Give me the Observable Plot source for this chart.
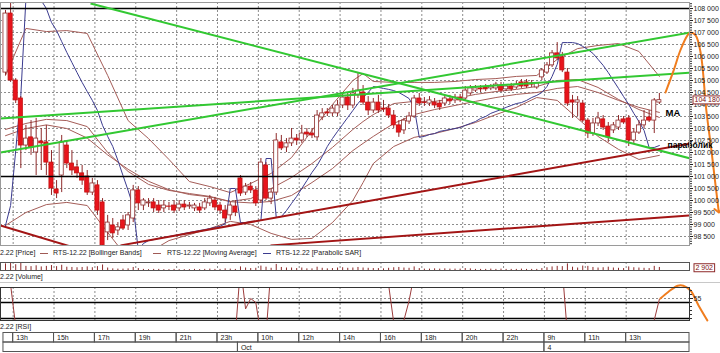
<!DOCTYPE html>
<html>
<head>
<meta charset="utf-8">
<script src="https://cdn.jsdelivr.net/npm/d3@7"></script>
<script src="https://cdn.jsdelivr.net/npm/@observablehq/plot@0.6"></script>
<style>
html,body{margin:0;padding:0;background:#fff;}
body{width:720px;height:353px;overflow:hidden;font-family:"Liberation Sans",Arial,sans-serif;}
.row{position:relative;width:720px;}
.lbl{position:absolute;font-size:7px;line-height:8px;color:#1a1a1a;white-space:nowrap;}
.dash{position:absolute;width:8px;height:0;border-top:1px solid;}
svg{display:block;}
</style>
</head>
<body>
<div id="price"></div>
<div class="row" style="height:14px">
  <span class="lbl" style="left:0px;top:2px">2.22 [Price]</span>
  <span class="dash" style="left:40px;top:6px;border-color:#a05a55"></span>
  <span class="lbl" style="left:53px;top:2px">RTS-12.22 [Bollinger Bands]</span>
  <span class="dash" style="left:153px;top:6px;border-color:#a05a55"></span>
  <span class="lbl" style="left:167px;top:2px">RTS-12.22 [Moving Average]</span>
  <span class="dash" style="left:263px;top:6px;border-color:#3b3b8f"></span>
  <span class="lbl" style="left:276px;top:2px">RTS-12.22 [Parabolic SAR]</span>
</div>
<div id="vol"></div>
<div class="row" style="height:9px;border-bottom:1px solid #c8c8c8"><span class="lbl" style="left:0px;top:0px">2.22 [Volume]</span></div>
<div id="rsi"></div>
<div class="row" style="height:9px"><span class="lbl" style="left:0px;top:0px">2.22 [RSI]</span></div>
<div id="time"></div>
<script>
// ---------------- DATA ----------------
const open = [
105330,107790,105000,104250,102290,102630,102000,102460,102420,101580,
100460,101040,102290,101540,101380,101130,101000,100330,100630,99920,
98670,98960,98750,99170,98960,99250,100420,99790,99880,99920,
99790,99670,99750,99790,99670,99830,99750,99670,99710,99670,
99880,100000,99790,99580,99380,99750,100920,100330,100580,100420,
100000,101460,100080,100330,102420,102210,102380,102580,102500,102830,
102790,102630,103460,103670,103630,103630,103960,104290,103960,104380,
104500,104080,103750,104080,103830,103830,103540,103130,102920,103290,
103500,104250,104080,104040,104080,104040,104040,104210,104170,104290,
104250,104460,104580,104670,104710,104670,104670,104790,104630,104750,
104710,104920,104920,104880,104710,105130,105330,105630,106130,105960,
105330,104170,104080,104040,103330,102790,103210,103380,103080,102920,
103040,103380,103420,102500,102830,103130,103460,103330,104080];
const high = [
107920,108210,105080,104330,103130,103330,103420,103000,103130,102080,
100830,102710,102500,102080,101670,101460,101250,100920,100830,100080,
99380,99250,99080,99380,99500,100630,100580,100080,100080,100080,
100000,100000,99920,100000,100000,100000,99920,99880,99880,100080,
100210,100130,99920,99790,99920,100000,101040,100710,100750,100580,
101750,101580,100500,102790,102710,102580,103000,102750,103130,103000,
103000,103750,103830,103830,103960,104170,104500,104500,104670,105330,
104790,104330,104250,104380,104170,104000,103750,103330,103420,103670,
104380,104460,104290,104330,104250,104170,104380,104380,104420,104420,
104750,104790,104790,104790,104830,104830,104920,104920,104830,104880,
104960,105040,105040,105000,104920,105500,105750,106250,106580,106170,
105500,104380,104330,104170,103420,103420,103670,103540,103250,103250,
103540,103500,103540,103000,103330,103750,103750,104250,104460];
const low = [
105210,104920,104040,101330,102080,101880,101040,101250,101040,100210,
100080,100330,101330,101040,100920,100630,100210,100210,99380,98000,
98330,98420,98540,98750,98750,99080,99580,99580,99710,99500,
99460,99500,99580,99460,99540,99580,99630,99540,99460,99580,
99750,99580,99420,99080,99170,99330,100170,100210,100290,99750,
99880,100000,99830,100210,102080,102000,102250,102290,102380,102630,
102580,102500,103330,103500,103500,103500,103830,103750,103830,104250,
103960,103540,103630,103630,103670,103420,103000,102630,102750,103170,
103420,103920,103920,103920,103830,103750,103920,104000,104040,104080,
104170,104380,104500,104500,104540,104580,104580,104500,104540,104540,
104630,104670,104670,104710,104630,105000,105250,105540,105830,105330,
103920,103420,103500,103250,102580,102670,103080,102920,102420,102790,
102920,103170,102250,102380,102750,103000,103250,102790,104000];
const close = [
107790,105000,104170,102290,102580,102210,102580,102380,101580,100500,
100290,102420,101540,101250,101130,100830,100330,100710,99580,98130,
99080,98630,98880,98830,99380,100420,99880,100000,99920,99670,
99580,99790,99740,99580,99830,99710,99790,99790,99580,99920,
100080,99710,99580,99250,99790,99500,100290,100580,100420,99880,
101580,100080,100330,102500,102170,102380,102580,102500,102790,102750,
102710,103540,103630,103630,103830,103960,104290,103960,104460,104580,
104080,103750,104080,103750,103790,103540,103130,102830,103330,103500,
104250,104040,104060,104170,103960,103880,104250,104130,104290,104170,
104580,104670,104670,104630,104630,104750,104830,104580,104750,104630,
104830,104750,104750,104830,104880,105420,105630,106130,105920,105420,
104040,104080,104170,103330,102790,103210,103420,103040,102630,103130,
103330,103250,102500,102830,103130,103330,103330,104170,104180];

const volume = [
2400,2900,2100,2600,1500,1400,1700,1300,1500,1800,1400,1900,1200,1100,1000,1100,1300,1000,1400,2000,
900,600,500,500,600,1100,700,400,300,400,400,300,300,400,300,300,300,400,300,400,500,400,400,600,500,400,
1300,900,700,800,1600,1200,800,2200,1100,900,900,700,900,600,600,
1200,800,600,700,900,1000,800,900,1100,900,800,700,700,600,800,1000,1100,900,800,1300,700,500,500,600,500,600,500,500,500,700,600,400,400,400,500,400,500,400,400,400,500,400,400,400,700,
1000,1300,1500,1400,2400,1200,900,1600,1500,1100,900,1000,1200,900,800,700,1300,1000,900,800,700,1500,1100];
const volumeMax = 2902;

const sar = [
98960,99790,102080,104380,108420,108500,108460,108330,108000,107420,
107080,106620,106170,105750,105330,104920,104540,104170,103750,103130,
102670,102250,101670,101040,100420,99750,97920,98210,98330,98370,
98420,98460,98500,98540,98580,98630,98670,98710,98750,98790,
98830,98880,98920,99040,100500,100500,99080,99080,99130,99130,
99170,101750,101750,99290,99330,99580,99880,100170,100500,100830,
101170,101460,101830,102250,102580,102880,103170,103460,103750,104040,
104290,104500,104750,104710,104670,104630,104580,104500,104380,104250,
103880,102630,102670,102750,102790,102880,102920,102960,103000,103040,
103130,103210,103290,103420,103500,103630,103710,103790,103880,103960,
104040,104080,104170,104290,104380,104500,104750,105170,105670,106580,
106580,106580,106540,106420,106290,106130,105880,105630,105330,105000,
104670,104330,104000,103630,103290,102920,102210,102210,102290];

const bandIdx = [0,4,8,12,16,20,24,28,32,36,40,44,48,52,56,60,64,68,70,72,76,80,84,88,92,96,100,104,108,112,116,120,124,128];
const bbUpper = [105210,107170,107040,107080,106960,105210,103330,102580,101710,100790,100580,100330,100710,101130,101790,102920,104000,105000,105290,104960,104920,104920,104920,104960,105040,105080,105170,105210,105880,106330,106460,106540,106210,105170];
const bbMiddle = [102960,103210,103380,103330,103080,102000,101210,100670,100420,100290,100170,99960,100080,100500,100960,101540,102210,102960,103290,103580,104040,104130,104130,104250,104420,104540,104630,104750,105000,105040,104710,104210,103790,103460];
const bbLower = [98960,99500,99830,99920,99790,98670,97580,97830,98330,98580,98830,99130,99000,98630,98380,98420,99080,100000,100750,101540,102250,102630,102790,103000,103250,103580,103880,104290,104170,103420,102670,102130,101710,101880];
const maLine = [102700,103000,103150,103000,102600,101900,101300,100800,100450,100250,100150,99950,99900,99960,100210,100750,101330,102080,102380,102670,103210,103580,103790,103960,104130,104290,104420,104500,104670,104750,104500,104170,103880,103670];

const rsi = [85,72,20,
12,15,18,14,16,10,8,20,15,13,12,11,10,12,9,6,12,10,13,14,18,22,18,20,19,17,18,16,19,18,20,19,18,17,20,22,18,16,12,20,15,18,
10,
95,42,55,50,10,10,95,
92,85,88,86,88,84,82,90,92,93,94,95,95,90,93,88,92,85,82,84,80,78,
72,25,15,28,52,85,
78,80,82,80,78,82,80,83,80,86,88,88,86,85,88,86,84,86,85,87,88,86,86,84,90,92,94,95,92,
10,
12,14,10,6,12,14,10,8,12,14,16,6,12,16,20,18,
28,54];
const rsiDashed = [55];
const rsiLevels = [50, 30];

// trend lines: [startIndex, startPrice, endIndex, endPrice]
const greenTrend = [[16.64,108210,134.1,101750],[-0.98,103420,134.1,105330],[-0.98,102000,134.1,107000]];
const redTrend = [[-0.98,98960,14.68,97960],[22.51,98130,134.1,102380],[51.88,98130,134.1,99380]];
const levels = [108000, 101000];

const orangeIdx = [129.2,130.8,132.1,133.5,134.1,135.1,136.1,137.2,138.2,139.0,139.6];
const orangeVal = [104500,105420,106250,106880,107000,106880,106130,103750,102080,100630,99580];
const orangeRsiIdx = [128.2,129.8,131.6,132.7,134.1,135.7,137.4];
const orangeRsiVal = [55,63.5,71,71,65,46,27.5];

const noteText = ["MA","параболик"];
const noteIdx = [129.2,129.6];
const notePrice = [103630,102290];
const noteSize = [9.5,8.5];

const priceTicks = d3.range(98500, 108001, 500);
const priceMinor = d3.range(98200, 108201, 100);
const timeTickIdx = [2,10,18,26,34,42,50,58,66,74,82,90,98,106,114,122];
const timeTickLabels = ["13h","15h","17h","19h","21h","23h","10h","12h","14h","16h","18h","20h","22h","9h","11h","13h"];
const dayStartIdx = [46,106];
const dayLabels = ["Oct","4"];

// ---------------- SETUP ----------------
const xDomain = [-0.979, 133.9];
const yDomain = [98125, 108250];
const FONT = "Liberation Sans, Arial, sans-serif";
const BAND = "#a55d58", SARC = "#3b3b8f", GREEN = "#32c832", DRED = "#a31515", ORANGE = "#f07d1e";
const fmt = d => d3.format(",")(d).replace(/,/g, " ");
const dotted = {stroke: "#8c8c8c", strokeOpacity: 1, strokeDasharray: "2,2"};

const candles = open.map((o, i) => ({i, open: o, high: high[i], low: low[i], close: close[i]}));
const bands = bandIdx.map((i, k) => ({i, up: bbUpper[k], mid: bbMiddle[k], lo: bbLower[k], ma: maLine[k]}));
const sarData = sar.map((v, i) => ({i, v}));
const rsiData = rsi.map((v, i) => ({i, v}));
const volData = volume.map((v, i) => ({i, v}));
const orange = orangeIdx.map((i, k) => ({i, v: orangeVal[k]}));
const orangeRsi = orangeRsiIdx.map((i, k) => ({i, v: orangeRsiVal[k]}));
const notes = noteText.map((t, k) => ({t, i: noteIdx[k], p: notePrice[k], s: noteSize[k]}));
const gridIdx = timeTickIdx.map(i => i - 0.5);

function boxText(svg, cls, color) {
  d3.select(svg).selectAll(`.${cls} text`).each(function() {
    const b = this.getBBox();
    d3.select(this.parentNode).insert("rect", () => this)
      .attr("x", b.x - 1.5).attr("y", b.y - 0.5)
      .attr("width", b.width + 3).attr("height", b.height + 1)
      .attr("transform", this.getAttribute("transform"))
      .attr("fill", "white").attr("stroke", color).attr("stroke-width", 1);
  });
}

// ---------------- PRICE PANEL ----------------
const pricePlot = Plot.plot({
  width: 720, height: 247,
  marginLeft: 0, marginRight: 31, marginTop: 2, marginBottom: 2,
  x: {domain: xDomain, axis: null},
  y: {domain: yDomain},
  style: {fontFamily: FONT, background: "white", overflow: "visible"},
  marks: [
    Plot.gridY(priceTicks, dotted),
    Plot.gridX(gridIdx, dotted),
    Plot.line(bands, {x: "i", y: "up", stroke: BAND, strokeWidth: 1, clip: true}),
    Plot.line(bands, {x: "i", y: "mid", stroke: BAND, strokeWidth: 1, clip: true}),
    Plot.line(bands, {x: "i", y: "lo", stroke: BAND, strokeWidth: 1, clip: true}),
    Plot.line(bands, {x: "i", y: "ma", stroke: BAND, strokeWidth: 1, clip: true}),
    Plot.line(sarData, {x: "i", y: "v", stroke: SARC, strokeWidth: 1, clip: true}),
    Plot.ruleX(candles, {x: "i", y1: "low", y2: "high", stroke: "#8e2a2a", strokeWidth: 1, clip: true}),
    Plot.rect(candles, {
      x1: d => d.i - 0.4, x2: d => d.i + 0.4, y1: "open", y2: "close",
      fill: d => d.close >= d.open ? "#ffffff" : "#e8141c",
      stroke: d => d.close >= d.open ? "#8e2a2a" : "#c41010",
      strokeWidth: 0.8, clip: true
    }),
    Plot.ruleY(levels, {stroke: "#000", strokeWidth: 1.5}),
    Plot.link(greenTrend, {x1: d => d[0], y1: d => d[1], x2: d => d[2], y2: d => d[3], stroke: GREEN, strokeWidth: 2, clip: true}),
    Plot.link(redTrend, {x1: d => d[0], y1: d => d[1], x2: d => d[2], y2: d => d[3], stroke: DRED, strokeWidth: 2, clip: true}),
    Plot.line(orange, {x: "i", y: "v", stroke: ORANGE, strokeWidth: 2, curve: "catmull-rom", markerEnd: "arrow"}),
    Plot.axisY(priceMinor, {anchor: "right", tickSize: 2, tickFormat: () => "", label: null, color: "#333"}),
    Plot.axisY(priceTicks, {anchor: "right", tickSize: 3, tickPadding: 1, tickFormat: fmt, fontSize: 7, label: null, color: "#222"}),
    Plot.text(notes, {x: "i", y: "p", text: "t", fontSize: "s", fontWeight: "bold", fill: "#000", textAnchor: "start"}),
    Plot.text([close[close.length - 1]], {x: () => xDomain[1], y: d => d, text: fmt, dx: 5, textAnchor: "start", fill: "#7a1010", fontSize: 7, className: "boxed"}),
    Plot.frame({stroke: "#9a9a9a"})
  ]
});
document.getElementById("price").appendChild(pricePlot);
boxText(pricePlot, "boxed", "#8e2a2a");

// ---------------- VOLUME PANEL ----------------
const volPlot = Plot.plot({
  width: 720, height: 12,
  marginLeft: 0, marginRight: 31, marginTop: 1, marginBottom: 3,
  x: {domain: xDomain, axis: null},
  y: {domain: [0, volumeMax], axis: null},
  style: {fontFamily: FONT, background: "white", overflow: "visible"},
  marks: [
    Plot.gridX(gridIdx, dotted),
    Plot.ruleX(volData, {x: "i", y1: 0, y2: "v", stroke: "#8e2a2a", strokeWidth: 1}),
    Plot.frame({stroke: "#555"}),
    Plot.text([volumeMax], {frameAnchor: "right", text: fmt, dx: 6, dy: 1.5, textAnchor: "start", fill: "#7a1010", fontSize: 7, className: "vboxed"})
  ]
});
document.getElementById("vol").appendChild(volPlot);
boxText(volPlot, "vboxed", "#8e2a2a");

// ---------------- RSI PANEL ----------------
const rsiPlot = Plot.plot({
  width: 720, height: 40,
  marginLeft: 0, marginRight: 31, marginTop: 4, marginBottom: 3,
  x: {domain: xDomain, axis: null},
  y: {domain: [27.5, 68.75]},
  style: {fontFamily: FONT, background: "white", overflow: "visible"},
  marks: [
    Plot.gridX(gridIdx, dotted),
    Plot.ruleY(rsiDashed, dotted),
    Plot.ruleY(rsiLevels, {stroke: "#000", strokeWidth: 1.5}),
    Plot.line(rsiData, {x: "i", y: "v", stroke: "#9c3c3c", strokeWidth: 1, clip: true}),
    Plot.line(orangeRsi, {x: "i", y: "v", stroke: ORANGE, strokeWidth: 2, curve: "catmull-rom"}),
    Plot.axisY([30,35,40,45,50,60,65], {anchor: "right", tickSize: 2, tickFormat: () => "", label: null, color: "#333"}),
    Plot.axisY(rsiDashed, {anchor: "right", tickSize: 3, tickPadding: 1, fontSize: 7, label: null, color: "#222"}),
    Plot.frame({stroke: "#333"})
  ]
});
document.getElementById("rsi").appendChild(rsiPlot);

// ---------------- TIME AXIS ----------------
const axisStart = -0.4;
const rowStarts = [axisStart, ...gridIdx];
const timeBuckets = rowStarts.map((s, k) => ({s, e: k + 1 < rowStarts.length ? rowStarts[k + 1] : xDomain[1]}));
const dayStarts = [axisStart, ...dayStartIdx.map(i => i - 0.5)];
const dayBuckets = dayStarts.map((s, k) => ({s, e: k + 1 < dayStarts.length ? dayStarts[k + 1] : xDomain[1]}));
const timeText = timeTickIdx.map((i, k) => ({i, t: timeTickLabels[k]}));
const dayText = dayStartIdx.map((i, k) => ({i, t: dayLabels[k]}));

const timePlot = Plot.plot({
  width: 720, height: 21,
  marginLeft: 0, marginRight: 31, marginTop: 0, marginBottom: 0,
  x: {domain: xDomain, axis: null},
  y: {domain: [0, 2], range: [0.5, 19.5], axis: null},
  style: {fontFamily: FONT, background: "white", overflow: "visible"},
  marks: [
    Plot.rect(timeBuckets, {x1: "s", x2: "e", y1: () => 0, y2: () => 1, fill: "none", stroke: "#555", strokeWidth: 1}),
    Plot.rect(dayBuckets, {x1: "s", x2: "e", y1: () => 1, y2: () => 2, fill: "none", stroke: "#555", strokeWidth: 1}),
    Plot.text(timeText, {x: d => d.i - 0.5, y: () => 0.5, text: "t", dx: 3, textAnchor: "start", fontSize: 7, fill: "#1a1a1a"}),
    Plot.text(dayText, {x: d => d.i - 0.5, y: () => 1.5, text: "t", dx: 3, textAnchor: "start", fontSize: 7, fill: "#1a1a1a"})
  ]
});
document.getElementById("time").appendChild(timePlot);
</script>
</body>
</html>
